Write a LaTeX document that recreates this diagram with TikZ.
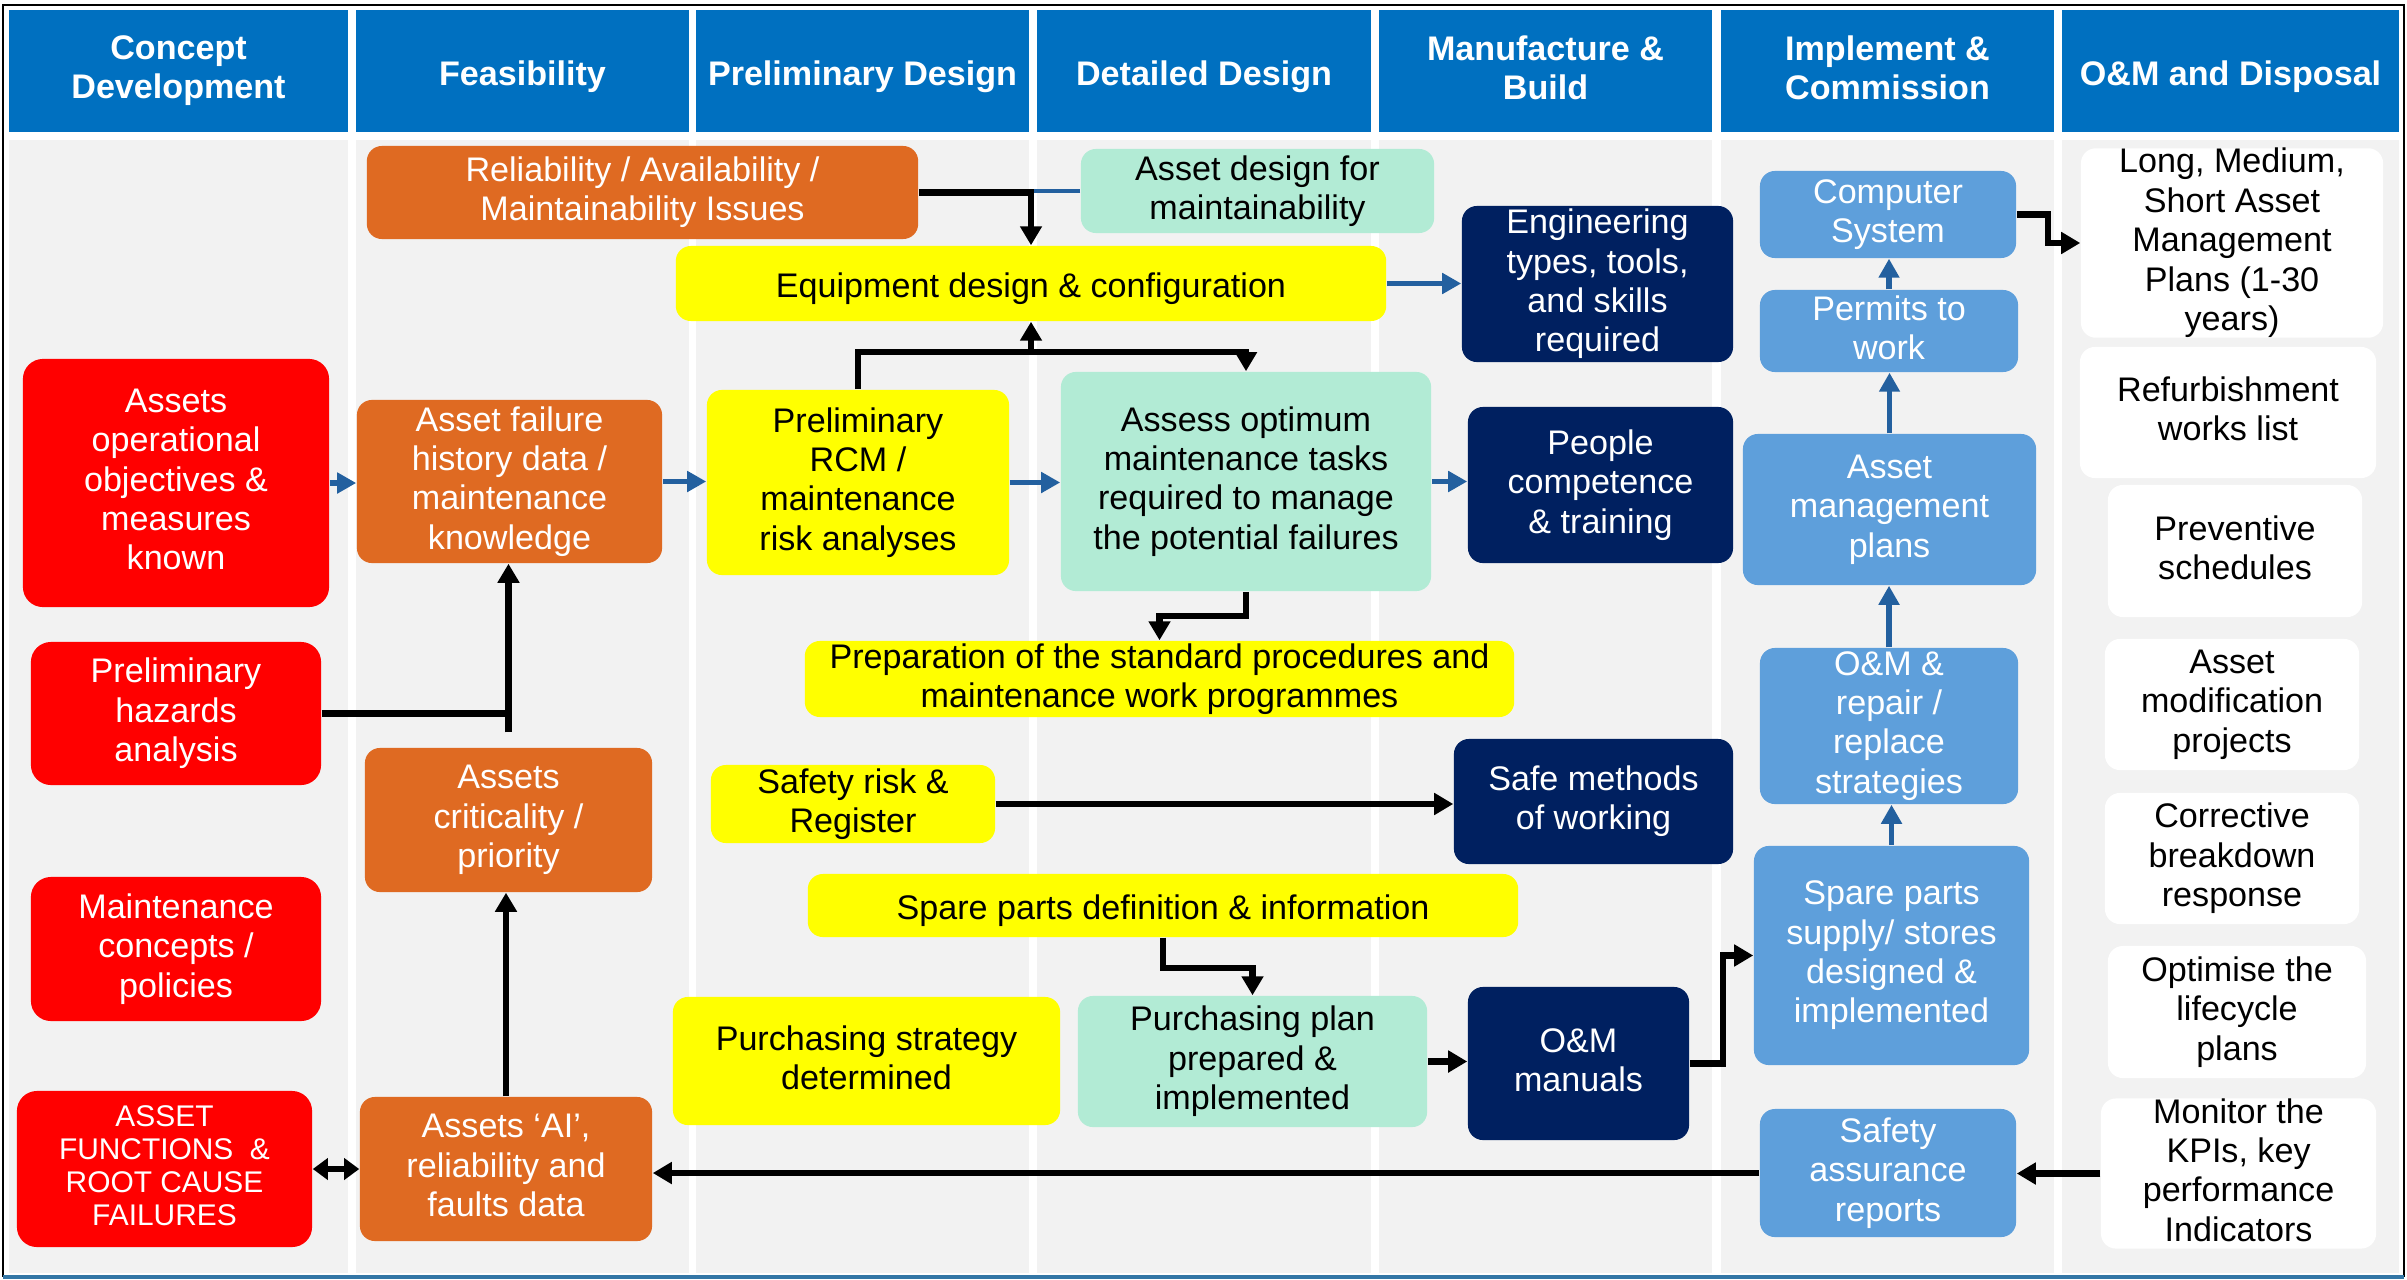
\documentclass[tikz,border=0pt]{standalone}
\usepackage{fontspec}
\setmainfont{Liberation Sans}
\usetikzlibrary{arrows.meta}

\definecolor{hdrblue}{HTML}{0070C0}
\definecolor{bodygray}{HTML}{F2F2F2}
\definecolor{redfill}{HTML}{FF0000}
\definecolor{orangefill}{HTML}{DF6A22}
\definecolor{yellowfill}{HTML}{FFFF00}
\definecolor{mintfill}{HTML}{B2EBD5}
\definecolor{navyfill}{HTML}{002060}
\definecolor{skyfill}{HTML}{5E9FDB}
\definecolor{linkblue}{HTML}{23609F}

\begin{document}
\begin{tikzpicture}[x=0.01cm, y=-0.01cm,
  pptext/.style={align=center, inner sep=0pt,
    execute at begin node={\rule{0pt}{1.04em}},
    execute at end node={\rule[-0.212em]{0pt}{0.212em}}},
  box/.style={pptext, rounded corners=0.15cm, font=\fontsize{9.7}{11.2}\selectfont},
  hdr/.style={pptext, fill=hdrblue, text=white, minimum height=1.22cm, font=\bfseries\fontsize{9.7}{11.2}\selectfont},
  redbox/.style={box, fill=redfill, text=white, rounded corners=0.2cm},
  orangebox/.style={box, fill=orangefill, text=white},
  yellowbox/.style={box, fill=yellowfill},
  mintbox/.style={box, fill=mintfill},
  navybox/.style={box, fill=navyfill, text=white},
  skybox/.style={box, fill=skyfill, text=white},
  whitebox/.style={box, fill=white},
  blk/.style={line width=1.8pt, -{Triangle[length=0.19cm, width=0.21cm]}},
  blkline/.style={line width=1.8pt},
  barr/.style={linkblue, line width=1.5pt, -{Triangle[length=0.19cm, width=0.2cm]}},
]
\useasboundingbox (0,0) rectangle (2407,1279);

% lanes
\foreach \xa/\xb in {9/348, 356/689, 696/1029, 1037/1371, 1379/1712, 1721/2054, 2062/2399}
  \fill[bodygray] (\xa,140) rectangle (\xb,1273);

\node[hdr, minimum width=3.39cm] (hconcept) at (178.5,71) {Concept\\Development};
\node[hdr, minimum width=3.33cm] (hfeas) at (522.5,71) {Feasibility};
\node[hdr, minimum width=3.33cm] (hprelim) at (862.5,71) {Preliminary Design};
\node[hdr, minimum width=3.34cm] (hdetail) at (1204,71) {Detailed Design};
\node[hdr, minimum width=3.33cm] (hbuild) at (1545.5,71) {Manufacture \&\\Build};
\node[hdr, minimum width=3.33cm] (himpl) at (1887.5,71) {Implement \&\\Commission};
\node[hdr, minimum width=3.37cm] (hdisp) at (2230.5,71) {O\&M and Disposal};

% concept development
\node[redbox, minimum width=3.06cm, minimum height=2.48cm] (ops) at (176,483) {Assets\\operational\\objectives \&\\measures\\known};
\node[redbox, minimum width=2.90cm, minimum height=1.43cm] (hazards) at (176,713.5) {Preliminary\\hazards\\analysis};
\node[redbox, minimum width=2.90cm, minimum height=1.44cm] (concepts) at (176,949) {Maintenance\\concepts /\\policies};
\node[redbox, minimum width=2.95cm, minimum height=1.56cm, font=\fontsize{8.5}{9.4}\selectfont] (functions) at (164.5,1169) {ASSET\\FUNCTIONS \ \&\\ROOT CAUSE\\FAILURES};

% feasibility
\node[orangebox, minimum width=5.51cm, minimum height=0.93cm] (rams) at (642.5,192.5) {Reliability / Availability /\\Maintainability Issues};
\node[orangebox, minimum width=3.05cm, minimum height=1.63cm] (history) at (509.5,481.5) {Asset failure\\history data /\\maintenance\\knowledge};
\node[orangebox, minimum width=2.87cm, minimum height=1.44cm] (criticality) at (508.5,820) {Assets\\criticality /\\priority};
\node[orangebox, minimum width=2.92cm, minimum height=1.44cm] (aidata) at (506,1169) {Assets ‘AI’,\\reliability and\\faults data};

% preliminary design
\node[yellowbox, minimum width=7.10cm, minimum height=0.75cm] (equipment) at (1031,283.5) {Equipment design \& configuration};
\node[yellowbox, minimum width=3.02cm, minimum height=1.85cm] (rcm) at (858,482.5) {Preliminary\\RCM /\\maintenance\\risk analyses};
\node[yellowbox, minimum width=7.09cm, minimum height=0.76cm] (procedures) at (1159.5,679) {Preparation of the standard procedures and\\maintenance work programmes};
\node[yellowbox, minimum width=2.84cm, minimum height=0.78cm] (safetyrisk) at (853,804) {Safety risk \&\\Register};
\node[yellowbox, minimum width=7.10cm, minimum height=0.63cm] (spareinfo) at (1163,905.5) {Spare parts definition \& information};
\node[yellowbox, minimum width=3.87cm, minimum height=1.28cm] (purchstrat) at (866.5,1061) {Purchasing strategy\\determined};

% detailed design
\node[mintbox, minimum width=3.53cm, minimum height=0.84cm] (designmaint) at (1257.5,191) {Asset design for\\maintainability};
\node[mintbox, minimum width=3.70cm, minimum height=2.19cm] (assess) at (1246,481.5) {Assess optimum\\maintenance tasks\\required to manage\\the potential failures};
\node[mintbox, minimum width=3.49cm, minimum height=1.31cm] (purchplan) at (1252.5,1061.5) {Purchasing plan\\prepared \&\\implemented};

% manufacture & build
\node[navybox, minimum width=2.71cm, minimum height=1.56cm] (engineering) at (1597.5,284) {Engineering\\types, tools,\\and skills\\required};
\node[navybox, minimum width=2.65cm, minimum height=1.56cm] (people) at (1600.5,485) {People\\competence\\\& training};
\node[navybox, minimum width=2.79cm, minimum height=1.25cm] (safemethods) at (1593.5,801.5) {Safe methods\\of working};
\node[navybox, minimum width=2.21cm, minimum height=1.53cm] (manuals) at (1578.5,1063.5) {O\&M\\manuals};

% implement & commission
\node[skybox, minimum width=2.56cm, minimum height=0.87cm] (computer) at (1888,214.5) {Computer\\System};
\node[skybox, minimum width=2.58cm, minimum height=0.82cm] (permits) at (1889,331) {Permits to\\work};
\node[skybox, minimum width=2.93cm, minimum height=1.51cm] (amplans) at (1889.5,509.5) {Asset\\management\\plans};
\node[skybox, minimum width=2.58cm, minimum height=1.56cm] (repair) at (1889,726) {O\&M \&\\repair /\\replace\\strategies};
\node[skybox, minimum width=2.75cm, minimum height=2.19cm] (sparesupply) at (1891.5,955.5) {Spare parts\\supply/ stores\\designed \&\\implemented};
\node[skybox, minimum width=2.56cm, minimum height=1.28cm] (assurance) at (1888,1173) {Safety\\assurance\\reports};

% O&M and disposal
\node[whitebox, minimum width=3.02cm, minimum height=1.88cm] (longplans) at (2232,243) {Long, Medium,\\Short Asset\\Management\\Plans (1-30\\years)};
\node[whitebox, minimum width=2.96cm, minimum height=1.31cm] (refurb) at (2228,412.5) {Refurbishment\\works list};
\node[whitebox, minimum width=2.54cm, minimum height=1.32cm] (preventive) at (2235,551) {Preventive\\schedules};
\node[whitebox, minimum width=2.54cm, minimum height=1.31cm] (modification) at (2232,704.5) {Asset\\modification\\projects};
\node[whitebox, minimum width=2.54cm, minimum height=1.31cm] (corrective) at (2232,858.5) {Corrective\\breakdown\\response};
\node[whitebox, minimum width=2.58cm, minimum height=1.32cm] (optimise) at (2237,1012) {Optimise the\\lifecycle\\plans};
\node[whitebox, minimum width=2.75cm, minimum height=1.47cm] (monitor) at (2238.5,1173.5) {Monitor the\\KPIs, key\\performance\\Indicators};

% connectors
\draw[linkblue, line width=1.3pt] (designmaint.west) -- (rams.east |- designmaint.west);
\draw[blk] (rams.east) -| (equipment.north);
\draw[barr] (equipment.east) -- (engineering.west |- equipment.east);
\coordinate (split) at (1031,352);
\draw[blkline] (rcm.north) |- (split);
\draw[blk] (split) -- (equipment.south);
\draw[blk] (split) -| (assess.north);
\draw[barr] (ops.east) -- (history.west |- ops.east);
\draw[barr] (history.east) -- (rcm.west |- history.east);
\draw[barr] (rcm.east) -- (assess.west |- rcm.east);
\draw[barr] (assess.east) -- (people.west |- assess.east);
\draw[blk] (assess.south) -- ++(0,24) -| (procedures.north);
\draw[blk, shorten <=0.15cm] (criticality.north) -- (criticality.north |- history.south);
\draw[blkline] (hazards.east) -- (hazards.east -| criticality.north);
\draw[blk] (aidata.north) -- (aidata.north |- criticality.south);
\draw[blk] (safetyrisk.east) -- (safemethods.west |- safetyrisk.east);
\draw[blk] (spareinfo.south) -- ++(0,30) -| (purchplan.north);
\draw[blk] (purchplan.east) -- (manuals.west |- purchplan.east);
\draw[blk] (manuals.east) -- ++(33,0) |- (sparesupply.west);
\draw[blk] (monitor.west) -- (assurance.east |- monitor.west);
\draw[blk] (assurance.west) -- (aidata.east |- assurance.west);
\draw[line width=1.8pt, {Triangle[length=0.15cm, width=0.21cm]}-{Triangle[length=0.15cm, width=0.21cm]}] (functions.east) -- (aidata.west |- functions.east);
\draw[barr] (permits.north) -- (permits.north |- computer.south);
\draw[barr] (amplans.north) -- (amplans.north |- permits.south);
\draw[barr] (repair.north) -- (repair.north |- amplans.south);
\draw[barr] (sparesupply.north) -- (sparesupply.north |- repair.south);
\draw[blk] (computer.east) -- ++(31,0) |- (longplans.west);

% frame
\draw[line width=0.8pt] (2404,1277) -- (2404,5) -- (3,5) -- (3,1277);
\draw[hdrblue!60!gray, line width=1pt] (3,1277) -- (2404,1277);
\end{tikzpicture}
\end{document}
